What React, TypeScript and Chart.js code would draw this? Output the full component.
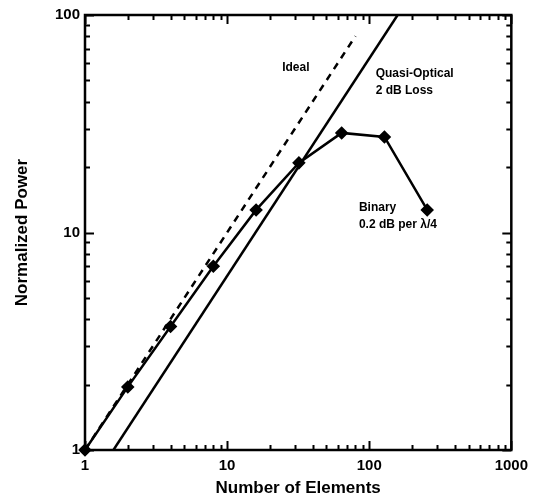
import React, { useEffect, useRef } from "react";
import { Chart, registerables } from "chart.js";

Chart.register(...registerables);

// ---- data ----
const binaryN = [1, 2, 4, 8, 16, 32, 64, 128, 256];
const binaryPower = [1, 1.95, 3.7, 7.0, 12.7, 20.9, 28.7, 27.5, 12.7];
const idealN = [1, 80];
const idealPower = [1, 80];
const quasiN = [1.585, 158.5];
const quasiPower = [1, 100];
const xTickLabels = [1, 10, 100, 1000];
const yTickLabels = [1, 10, 100];
const labelTexts = ["Ideal", "Quasi-Optical", "2 dB Loss", "Binary", "0.2 dB per \u03BB/4"];
const labelX = [24.4, 111, 111, 84.6, 84.6];
const labelY = [57, 53.5, 44.7, 12.97, 10.9];

const FONT = "'Liberation Sans', Arial, sans-serif";

const framePlugin = {
  id: "framePlugin",
  afterDatasetsDraw(chart: any) {
    const { ctx, chartArea: a, scales } = chart;
    const xs = scales.x;
    const ys = scales.y;
    ctx.save();
    ctx.strokeStyle = "#000";
    // minor / major ticks on all sides (inward)
    ctx.lineWidth = 2;
    const decadeTicks = (min: number, max: number) => {
      const out: { v: number; major: boolean }[] = [];
      for (let d = min; d < max; d *= 10) {
        for (let m = 1; m < 10; m++) out.push({ v: d * m, major: m === 1 });
      }
      out.push({ v: max, major: true });
      return out;
    };
    for (const t of decadeTicks(1, 1000)) {
      const px = Math.round(xs.getPixelForValue(t.v)) + 0.5;
      const len = t.major ? 9 : 5;
      ctx.beginPath();
      ctx.moveTo(px, a.bottom);
      ctx.lineTo(px, a.bottom - len);
      ctx.moveTo(px, a.top);
      ctx.lineTo(px, a.top + len);
      ctx.stroke();
    }
    for (const t of decadeTicks(1, 100)) {
      const py = Math.round(ys.getPixelForValue(t.v)) + 0.5;
      const len = t.major ? 9 : 5;
      ctx.beginPath();
      ctx.moveTo(a.left, py);
      ctx.lineTo(a.left + len, py);
      ctx.moveTo(a.right, py);
      ctx.lineTo(a.right - len, py);
      ctx.stroke();
    }
    // frame
    ctx.lineWidth = 2.5;
    ctx.strokeRect(a.left, a.top, a.right - a.left, a.bottom - a.top);
    // annotations
    ctx.fillStyle = "#000";
    ctx.font = `bold 12px ${FONT}`;
    ctx.textAlign = "left";
    ctx.textBaseline = "middle";
    labelTexts.forEach((txt, i) => {
      ctx.fillText(txt, xs.getPixelForValue(labelX[i]), ys.getPixelForValue(labelY[i]));
    });
    ctx.restore();
  },
};

export default function App() {
  const ref = useRef<HTMLCanvasElement | null>(null);
  useEffect(() => {
    if (!ref.current) return;
    const chart = new Chart(ref.current, {
      type: "line",
      data: {
        datasets: [
          {
            label: "Ideal",
            data: idealN.map((n, i) => ({ x: n, y: idealPower[i] })),
            borderColor: "#000",
            borderWidth: 2.5,
            borderDash: [7, 6],
            pointRadius: 0,
            fill: false,
          },
          {
            label: "Quasi-Optical 2 dB Loss",
            data: quasiN.map((n, i) => ({ x: n, y: quasiPower[i] })),
            borderColor: "#000",
            borderWidth: 2.5,
            pointRadius: 0,
            fill: false,
          },
          {
            label: "Binary 0.2 dB per \u03BB/4",
            data: binaryN.map((n, i) => ({ x: n, y: binaryPower[i] })),
            borderColor: "#000",
            backgroundColor: "#000",
            borderWidth: 2.5,
            pointStyle: "rectRot",
            pointRadius: 5,
            pointBackgroundColor: "#000",
            pointBorderColor: "#000",
            fill: false,
            clip: false,
          } as any,
        ],
      },
      options: {
        animation: false,
        responsive: false,
        devicePixelRatio: 1,
        layout: { padding: { left: 0, top: 15, right: 22, bottom: 0 } },
        plugins: { legend: { display: false }, tooltip: { enabled: false } },
        scales: {
          x: {
            type: "logarithmic",
            min: 1,
            max: 1000,
            grid: { display: false, drawTicks: false },
            border: { display: false },
            afterBuildTicks: (s: any) => {
              s.ticks = xTickLabels.map((v) => ({ value: v }));
            },
            afterFit: (s: any) => {
              s.height = 51;
            },
            ticks: {
              color: "#000",
              padding: 7,
              maxRotation: 0,
              autoSkip: false,
              font: { family: FONT, size: 15, weight: "bold" },
              callback: (v: any) => String(v),
            },
            title: {
              display: true,
              text: "Number of Elements",
              color: "#000",
              font: { family: FONT, size: 17, weight: "bold" },
              padding: { top: 0, bottom: 2 },
            },
          },
          y: {
            type: "logarithmic",
            min: 1,
            max: 100,
            grid: { display: false, drawTicks: false },
            border: { display: false },
            afterBuildTicks: (s: any) => {
              s.ticks = yTickLabels.map((v) => ({ value: v }));
            },
            afterFit: (s: any) => {
              s.width = 85;
            },
            ticks: {
              color: "#000",
              padding: 5,
              autoSkip: false,
              font: { family: FONT, size: 15, weight: "bold" },
              callback: (v: any) => String(v),
            },
            title: {
              display: true,
              text: "Normalized Power",
              color: "#000",
              font: { family: FONT, size: 17, weight: "bold" },
              padding: { top: 12, bottom: 0 },
            },
          },
        },
      },
      plugins: [framePlugin],
    } as any);
    return () => chart.destroy();
  }, []);
  return (
    <div style={{ position: "absolute", left: 0, top: 0, width: 535, height: 501, background: "#fff" }}>
      <canvas ref={ref} width={535} height={501} style={{ display: "block" }} />
    </div>
  );
}
